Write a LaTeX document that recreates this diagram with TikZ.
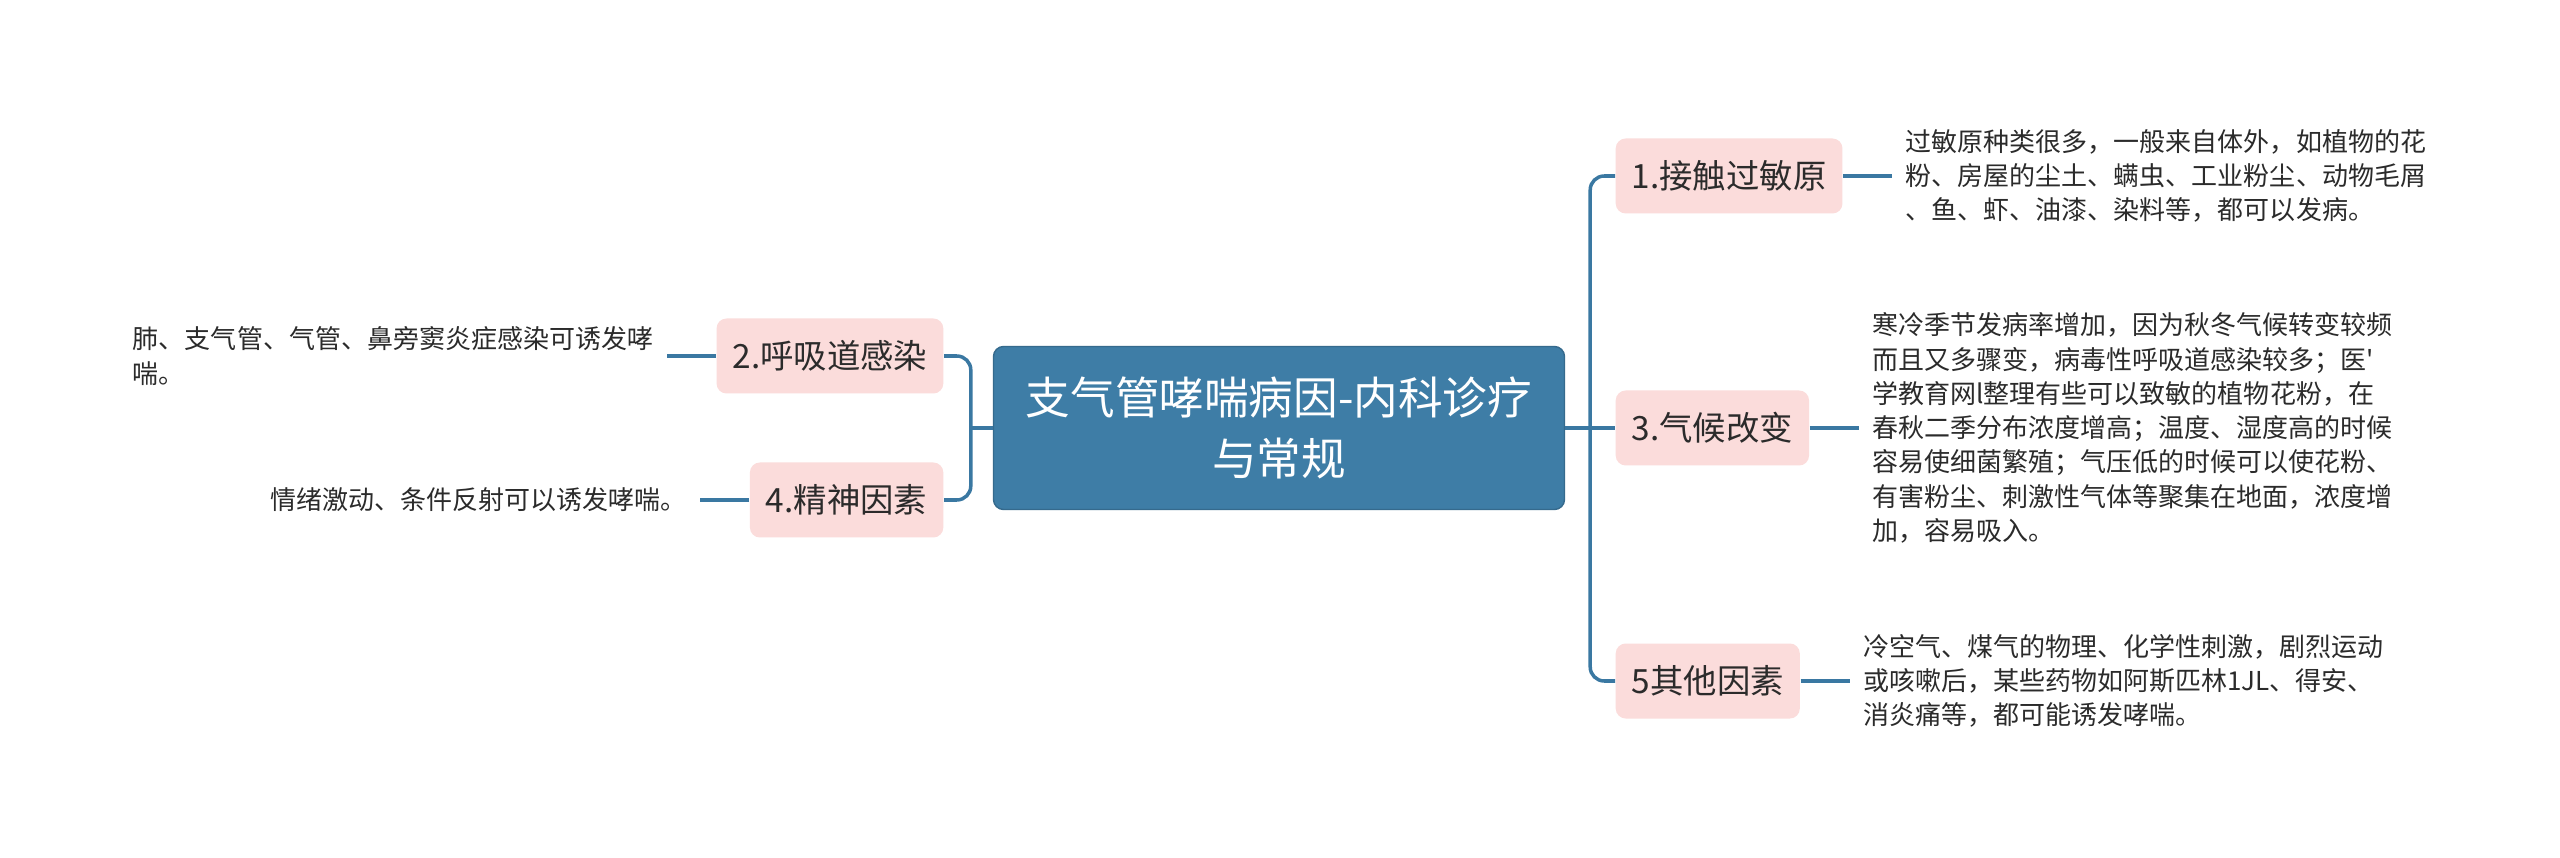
\documentclass[tikz,border=0pt]{standalone}
\usepackage{fontspec}
\setmainfont{Noto Sans CJK SC}
\usetikzlibrary{positioning}
\definecolor{rootblue}{HTML}{3E7DA6}
\definecolor{linkblue}{HTML}{3A78A2}
\definecolor{topicpink}{HTML}{FBDCDB}
\definecolor{txtgray}{HTML}{2B2B2B}

\begin{document}
\begin{tikzpicture}[
  root/.style={fill=rootblue, draw=rootblue!85!black, line width=0.4pt, rounded corners=0.1cm, align=center, text=white,
    minimum width=5.71cm, minimum height=1.63cm, font=\fontsize{12.7pt}{17.6pt}\selectfont},
  topic/.style={fill=topicpink, rounded corners=0.1cm, minimum height=0.75cm, inner xsep=0.16cm,
    text=txtgray, font=\fontsize{9.5pt}{12pt}\selectfont},
  leaf/.style={align=left, inner xsep=0.13cm, text=txtgray, font=\fontsize{7.4pt}{9.75pt}\selectfont},
  link/.style={draw=linkblue, line width=1pt, rounded corners=0.14cm}
]
\useasboundingbox[fill=white] (0,0) rectangle (25.6,8.57);

\node[root] (root) at (12.79,4.29) {支气管哮喘病因-内科诊疗\\与常规};

\node[topic, anchor=east] (resp) at (9.44,5.01) {2.呼吸道感染};
\node[topic, anchor=east] (mind) at (9.44,3.57) {4.精神因素};
\node[topic, anchor=west] (allergen) at (16.15,6.81) {1.接触过敏原};
\node[topic, anchor=west] (climate) at (16.15,4.29) {3.气候改变};
\node[topic, anchor=west] (other) at (16.15,1.76) {5其他因素};

\node[leaf, left=0.49cm of resp] (respL) {肺、支气管、气管、鼻旁窦炎症感染可诱发哮\\喘。};
\node[leaf, left=0.49cm of mind] (mindL) {情绪激动、条件反射可以诱发哮喘。};
\node[leaf, right=0.49cm of allergen] (allergenL) {过敏原种类很多，一般来自体外，如植物的花\\粉、房屋的尘土、螨虫、工业粉尘、动物毛屑\\、鱼、虾、油漆、染料等，都可以发病。};
\node[leaf, right=0.49cm of climate] (climateL) {寒冷季节发病率增加，因为秋冬气候转变较频\\而且又多骤变，病毒性呼吸道感染较多；医\textquotesingle\\学教育网l整理有些可以致敏的植物花粉，在\\春秋二季分布浓度增高；温度、湿度高的时候\\容易使细菌繁殖；气压低的时候可以使花粉、\\有害粉尘、刺激性气体等聚集在地面，浓度增\\加，容易吸入。};
\node[leaf, right=0.49cm of other] (otherL) {冷空气、煤气的物理、化学性刺激，剧烈运动\\或咳嗽后，某些药物如阿斯匹林1JL、得安、\\消炎痛等，都可能诱发哮喘。};

% trunk to the left
\draw[link] (root.west) -- ++(-0.22,0);
\draw[link] (root.west) ++(-0.22,0) |- (resp.east);
\draw[link] (root.west) ++(-0.22,0) |- (mind.east);

% trunk to the right
\draw[link] (root.east) -- (climate.west);
\draw[link] (root.east) ++(0.25,0) |- (allergen.west);
\draw[link] (root.east) ++(0.25,0) |- (other.west);

% topics to their texts
\draw[link] (resp.west) -- (respL.east);
\draw[link] (mind.west) -- (mindL.east);
\draw[link] (allergen.east) -- (allergenL.west);
\draw[link] (climate.east) -- (climateL.west);
\draw[link] (other.east) -- (otherL.west);
\end{tikzpicture}
\end{document}
